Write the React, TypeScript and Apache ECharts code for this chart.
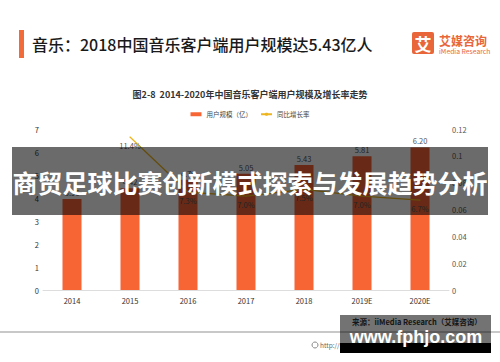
import React, { useEffect, useRef } from "react";
import * as echarts from "echarts";

const categories = ["2014", "2015", "2016", "2017", "2018", "2019E", "2020E"];
const userScale = [3.96, 4.42, 4.79, 5.05, 5.43, 5.81, 6.2];
const growthRate = [null, 0.114, 0.073, 0.07, 0.075, 0.07, 0.067];
const leftTicks = { min: 0, max: 7, interval: 1 };
const rightTicks = { min: 0, max: 0.12, interval: 0.02 };

const FONT = "'Noto Sans CJK SC', 'Noto Sans', sans-serif";
const ORANGE = "#F86535";
const GOLD = "#EDB51E";

export default function App() {
  const ref = useRef<HTMLDivElement>(null);
  useEffect(() => {
    document.body.style.margin = "0";
    const chart = echarts.init(ref.current!, null, { renderer: "svg" });
    chart.setOption({
      animation: false,
      backgroundColor: "#fff",
      textStyle: { fontFamily: FONT },
      title: {
        text: "图2-8  2014-2020年中国音乐客户端用户规模及增长率走势",
        left: "center",
        top: 85,
        textStyle: { fontSize: 9, fontWeight: "bold", color: "#333", fontFamily: FONT },
      },
      legend: {
        top: 106,
        left: "center",
        itemWidth: 11,
        itemHeight: 4,
        itemGap: 8,
        textStyle: { fontSize: 6.5, color: "#444", fontFamily: FONT },
        data: [
          { name: "用户规模（亿）", icon: "rect" },
          { name: "同比增长率" },
        ],
      },
      grid: { left: 43, right: 51, top: 129, bottom: 72 },
      xAxis: {
        type: "category",
        data: categories,
        axisLine: { lineStyle: { color: "#ddd" } },
        axisTick: { lineStyle: { color: "#ddd" }, length: 3 },
        axisLabel: { fontSize: 7.5, color: "#333", margin: 7 },
      },
      yAxis: [
        {
          type: "value",
          ...leftTicks,
          splitLine: { show: false },
          axisLine: { show: false },
          axisTick: { show: false },
          axisLabel: { fontSize: 7.5, color: "#333", margin: 4 },
        },
        {
          type: "value",
          ...rightTicks,
          splitLine: { show: false },
          axisLine: { show: false },
          axisTick: { show: false },
          axisLabel: {
            fontSize: 7.5,
            color: "#555",
            margin: 3,
            formatter: (v: number) => String(Math.round(v * 100) / 100),
          },
        },
      ],
      series: [
        {
          name: "用户规模（亿）",
          type: "bar",
          data: userScale,
          barWidth: 19,
          itemStyle: { color: ORANGE },
          label: {
            show: true,
            position: "top",
            distance: 3,
            fontSize: 7.5,
            color: "#555",
            formatter: (p: any) => Number(p.value).toFixed(2),
          },
        },
        {
          name: "同比增长率",
          type: "line",
          yAxisIndex: 1,
          data: growthRate,
          symbol: "circle",
          symbolSize: 1,
          lineStyle: { color: GOLD, width: 1.3 },
          itemStyle: { color: GOLD },
          label: {
            show: true,
            position: "bottom",
            distance: 4,
            fontSize: 7.5,
            color: "#555",
            formatter: (p: any) => (p.value == null ? "" : (p.value * 100).toFixed(1) + "%"),
          },
        },
      ],
      graphic: [
        { type: "rect", z: 10, shape: { x: 19, y: 30, width: 5, height: 28 }, style: { fill: "#F26B3A" } },
        {
          type: "text",
          z: 10,
          x: 32,
          y: 44,
          style: {
            text: "音乐：2018中国音乐客户端用户规模达5.43亿人",
            fontSize: 16,
            fontWeight: 500,
            fontFamily: FONT,
            fill: "#1a1a1a",
            verticalAlign: "middle",
          },
        },
        { type: "rect", z: 10, shape: { x: 412, y: 32, width: 22, height: 22, r: 2 }, style: { fill: "#E8663A" } },
        {
          type: "text",
          z: 11,
          x: 423,
          y: 43,
          style: {
            text: "艾",
            fontSize: 17,
            fontWeight: "bold",
            fontFamily: FONT,
            fill: "#fff",
            align: "center",
            verticalAlign: "middle",
          },
        },
        {
          type: "text",
          z: 10,
          x: 439,
          y: 40,
          style: {
            text: "艾媒咨询",
            fontSize: 12,
            fontWeight: "bold",
            fontFamily: FONT,
            fill: "#E8663A",
            verticalAlign: "middle",
          },
        },
        {
          type: "text",
          z: 10,
          x: 439,
          y: 51,
          style: {
            text: "iMedia Research",
            fontSize: 6.8,
            fontFamily: FONT,
            fill: "#E8663A",
            verticalAlign: "middle",
          },
        },
        {
          type: "text",
          z: 10,
          x: 352,
          y: 321,
          style: {
            text: "来源：iiMedia Research（艾媒咨询）",
            fontSize: 7.5,
            fontWeight: "bold",
            fontFamily: FONT,
            fill: "#333",
            verticalAlign: "middle",
          },
        },
        { type: "rect", z: 10, shape: { x: 0, y: 331, width: 500, height: 2 }, style: { fill: "#c8c8c8" } },
        { type: "circle", z: 10, shape: { cx: 315, cy: 345, r: 3 }, style: { fill: "none", stroke: "#888", lineWidth: 1 } },
        {
          type: "text",
          z: 10,
          x: 320,
          y: 345,
          style: {
            text: "http://www.iimedia.cn    © 2019 iiMedia Research Inc",
            fontSize: 6.5,
            fontFamily: FONT,
            fill: "#666",
            verticalAlign: "middle",
          },
        },
        {
          type: "rect",
          z: 50,
          shape: { x: 12, y: 147, width: 476, height: 68 },
          style: { fill: "rgba(0,0,0,0.58)" },
        },
        {
          type: "text",
          z: 51,
          x: 250,
          y: 182,
          style: {
            text: "商贸足球比赛创新模式探索与发展趋势分析",
            fontSize: 25,
            fontWeight: "bold",
            fontFamily: FONT,
            fill: "#fff",
            align: "center",
            verticalAlign: "middle",
          },
        },
        {
          type: "rect",
          z: 50,
          shape: { x: 340, y: 315, width: 151, height: 38 },
          style: { fill: "rgba(0,0,0,0.55)" },
        },
        {
          type: "rect",
          z: 50,
          shape: { x: 340, y: 343, width: 151, height: 10 },
          style: { fill: "#000" },
        },
        {
          type: "text",
          z: 51,
          x: 416,
          y: 337,
          style: {
            text: "www.fphjo.com",
            fontSize: 18,
            fontWeight: "bold",
            fontFamily: "'Liberation Sans', Arial, sans-serif",
            fill: "#fff",
            align: "center",
            verticalAlign: "middle",
          },
        },
      ],
    });
    return () => chart.dispose();
  }, []);
  return <div ref={ref} style={{ width: 500, height: 362 }} />;
}
